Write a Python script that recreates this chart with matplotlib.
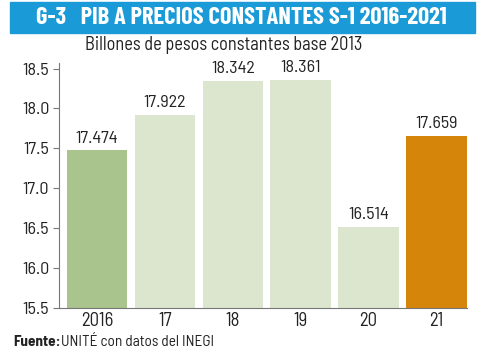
import matplotlib.pyplot as plt
from matplotlib.patches import Rectangle

# Data
years = ["2016", "17", "18", "19", "20", "21"]
values = [17.474, 17.922, 18.342, 18.361, 16.514, 17.659]
colors = ["#a9c48c", "#dce6cf", "#dce6cf", "#dce6cf", "#dce6cf", "#d5850a"]
yticks = [15.5, 16.0, 16.5, 17.0, 17.5, 18.0, 18.5]

body = ["Barlow Semi Condensed", "DejaVu Sans"]
head = ["Barlow Condensed", "DejaVu Sans"]
plt.rcParams["font.family"] = body

fig = plt.figure(figsize=(5, 3.54), dpi=100)

# title bar
fig.patches.append(Rectangle((10 / 500, 1 - 33 / 354), 465 / 500, 31 / 354,
                             transform=fig.transFigure, color="#1a9ad6", zorder=0))
fig.text(241 / 500, 1 - 18 / 354, "G-3   PIB A PRECIOS CONSTANTES S-1 2016-2021",
         family=head, color="white", fontsize=17.6, fontweight="bold",
         ha="center", va="center")
fig.text(224 / 500, 1 - 45 / 354, "Billones de pesos constantes base 2013",
         color="#222222", fontsize=13.2, ha="center", va="center")

ax = fig.add_axes([59 / 500, 1 - 308 / 354, 408 / 500, 245 / 354])
x = range(len(years))
ax.bar(x, values, width=0.89, color=colors)
for i, v in zip(x, values):
    ax.text(i, v + 0.06, f"{v:.3f}", ha="center", va="bottom", fontsize=13, color="#222222")

ax.set_ylim(15.5, 18.57)
ax.set_xlim(-0.56, 5.45)
ax.set_yticks(yticks)
ax.set_yticklabels([f"{t:.1f}" for t in yticks])
ax.set_xticks(list(x))
ax.set_xticklabels(years)
ax.tick_params(axis="y", length=4, color="#777777", labelsize=13, labelcolor="#222222", pad=3)
ax.tick_params(axis="x", length=0, labelsize=13.5, labelcolor="#222222", pad=3)
for s in ["top", "right"]:
    ax.spines[s].set_visible(False)
ax.spines["left"].set_color("#777777")
ax.spines["bottom"].set_color("#777777")

fig.text(13 / 500, 1 - 342 / 354, "Fuente:", fontsize=11, fontweight="bold",
         color="#222222", va="center")
fig.text(61 / 500, 1 - 342 / 354, "UNITÉ con datos del INEGI", fontsize=11,
         color="#222222", va="center")

fig.savefig("out.png", dpi=100)
